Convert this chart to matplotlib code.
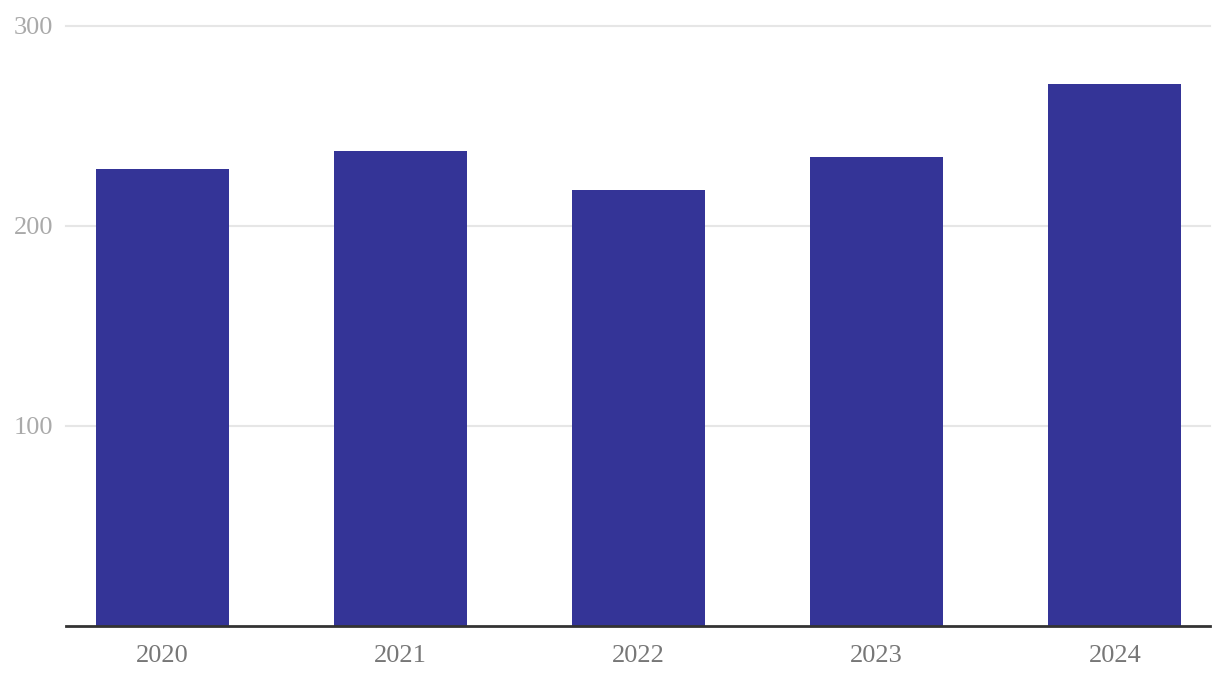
import matplotlib
matplotlib.use("Agg")
import matplotlib.pyplot as plt

# Data
years = ["2020", "2021", "2022", "2023", "2024"]
values = [228.5, 237.5, 218, 234.5, 271]
y_ticks = [100, 200, 300]

BAR_COLOR = "#343497"

plt.rcParams["font.family"] = ["Liberation Serif", "DejaVu Serif"]

W, H = 1220, 686
fig = plt.figure(figsize=(W / 100, H / 100), dpi=100)
ax = fig.add_axes([66 / W, 60 / H, (1210 - 66) / W, (626 - 26) / H])

x = range(len(years))
ax.bar(x, values, width=0.56, color=BAR_COLOR, zorder=3)

ax.set_xlim(-0.405, 4.4)
ax.set_ylim(0, 300)
ax.set_xticks(list(x))
ax.set_xticklabels(years)
ax.set_yticks(y_ticks)

# gridlines
for t in y_ticks:
    ax.axhline(t, color="#e6e6e6", linewidth=1.5, zorder=1, clip_on=False)

for side in ["top", "right", "left"]:
    ax.spines[side].set_visible(False)
ax.spines["bottom"].set_color("#333333")
ax.spines["bottom"].set_linewidth(2)
ax.spines["bottom"].set_zorder(4)

ax.tick_params(axis="x", length=0, pad=14, labelsize=19, labelcolor="#777777")
ax.tick_params(axis="y", length=0, pad=9, labelsize=19, labelcolor="#aaaaaa")

fig.savefig("out.png", dpi=100, facecolor="white")
